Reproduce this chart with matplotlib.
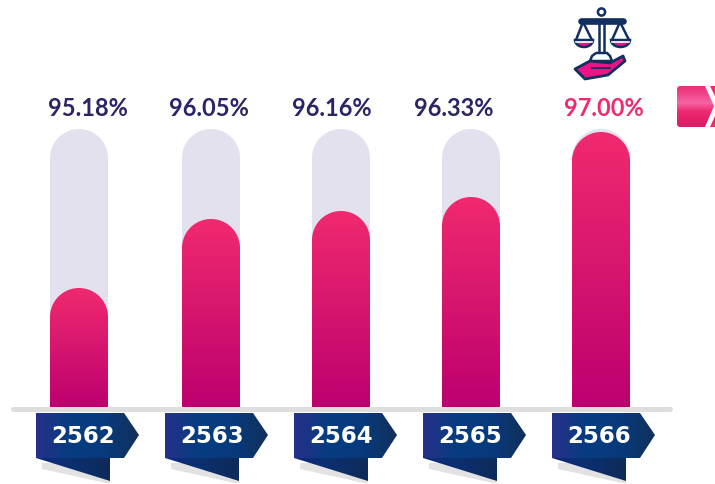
import numpy as np
import matplotlib
matplotlib.use('Agg')
import matplotlib.pyplot as plt
from matplotlib.colors import LinearSegmentedColormap
from matplotlib.patches import Polygon, Circle, PathPatch
from matplotlib.path import Path

years = ['2562', '2563', '2564', '2565', '2566']
labels = ['95.18%', '96.05%', '96.16%', '96.33%', '97.00%']
# fill height of each bar in pixels above the baseline
fill_heights = [120, 189, 197, 211, 276]
track_height = 279

bar_x = [79, 211, 341, 471, 601]
label_x = [87.5, 209, 331.5, 453.5, 603.5]
tag_x = [36, 165, 294, 423, 552]
bar_w = 58
PINK = '#EE2A72'
NAVY = '#2A2566'
DARK = '#12305F'

plt.rcParams['font.family'] = ['Lato', 'DejaVu Sans']
fig = plt.figure(figsize=(7.15, 4.85), dpi=100)
ax = fig.add_axes([0, 0, 1, 1])
ax.set_xlim(0, 715)
ax.set_ylim(-76, 409)   # 0 is the baseline, one unit is one pixel
ax.axis('off')

def py(y):
    return 409 - y

def P(pts):
    return [(a, py(b)) for a, b in pts]

def pill(xc, h, w):
    r = w / 2
    t = np.linspace(np.pi, 0, 60)
    xs = np.r_[xc - r, xc + r * np.cos(t), xc + r]
    ys = np.r_[0, h - r + r * np.sin(t), 0]
    return Path(np.c_[xs, ys])

def grad(extent, colors, clip, horizontal=False, z=3):
    g = np.linspace(0, 1, 256)
    g = g.reshape(1, 256) if horizontal else g.reshape(256, 1)
    cm = LinearSegmentedColormap.from_list('g', colors)
    im = ax.imshow(g, extent=extent, cmap=cm, origin='upper', aspect='auto', zorder=z, interpolation='bilinear')
    im.set_clip_path(clip)

for x, h, lx, lab in zip(bar_x, fill_heights, label_x, labels):
    ax.add_patch(PathPatch(pill(x, track_height, bar_w), fc='#E3E1EE', ec='none', zorder=2))
    clip = PathPatch(pill(x, h, bar_w), fc='none', ec='none', zorder=3)
    ax.add_patch(clip)
    grad((x - bar_w / 2, x + bar_w / 2, 0, h), ['#F02A6E', '#BC006F'], clip)
    ax.text(lx, py(109), lab, ha='center', va='center', fontsize=17, fontweight='bold',
            color=PINK if lab == labels[-1] else NAVY, zorder=5)

# baseline
ax.plot([13, 670], [py(410), py(410)], color='#DEDEDE', lw=3.6, solid_capstyle='round', zorder=4)

# year tags
for x, yr in zip(tag_x, years):
    ax.add_patch(Polygon(P([(x + 6, 464), (x + 6, 470), (x + 70, 484), (x + 74, 484), (x + 74, 464)]),
                         fc='#E2E2E2', ec='none', zorder=2))
    fold = PathPatch(Path(P([(x, 459), (x + 74, 482), (x + 74, 455), (x, 455)])), fc='none', ec='none')
    ax.add_patch(fold)
    grad((x, x + 74, py(482), py(455)), ['#0E2A7C', '#0B2F70', '#0E2A58'], fold, horizontal=True)
    pent = PathPatch(Path(P([(x, 414), (x + 88, 414), (x + 103, 436), (x + 88, 459), (x, 459)])), fc='none', ec='none')
    ax.add_patch(pent)
    grad((x, x + 103, py(459), py(414)), ['#27318A', '#063C80', '#073A7C', '#12305A'], pent, horizontal=True, z=4)
    ax.text(x + 47.5, py(437), yr, ha='center', va='center', color='white', fontsize=16.5,
            fontweight='bold', family='DejaVu Sans', zorder=6)

# scales icon
z = 7
lw = 1.8
ax.add_patch(Circle((601.5, py(13)), 3.6, fc='white', ec=DARK, lw=lw, zorder=z))
ax.add_patch(Polygon(P([(599, 23), (604, 23), (604, 54), (599, 54)]), fc='white', ec=DARK, lw=lw, zorder=z))
ax.plot([581, 623], [py(21.5), py(21.5)], color=DARK, lw=4.8, solid_capstyle='round', zorder=z + 1)
for apex, l, r in [(583, 575, 593), (620, 611, 630)]:
    ax.plot([l + 1, apex, r - 1], [py(41), py(23), py(41)], color=DARK, lw=lw, zorder=z)
    t = np.linspace(np.pi, 0, 30)
    cx, rx = (l + r) / 2, (r - l) / 2
    bowl = np.c_[cx + rx * np.cos(t), py(41) - 7 * np.sin(t)]
    ax.add_patch(Polygon(bowl, fc='#EC1387', ec=DARK, lw=lw, zorder=z))
    ax.plot([l + 1, r - 1], [py(43), py(43)], color='white', lw=1.2, zorder=z + 1)
ax.add_patch(Polygon(P([(596, 54), (607, 54), (610, 57), (612, 62), (590, 62), (592, 57)]), fc='white', ec=DARK, lw=lw, zorder=z))
ax.add_patch(Polygon(P([(575, 70), (590, 62), (610, 64), (623, 57), (625, 62), (608, 76), (585, 80)]),
                     fc='#EC1387', ec=DARK, lw=2, joinstyle='round', zorder=z + 1))
ax.plot([592, 610], [py(69), py(69)], color=DARK, lw=1.3, zorder=z + 2)

# clipped arrow button on the right edge
btn_shape = PathPatch(Path(P([(677, 89), (679, 87), (705, 87), (714, 107), (705, 128), (679, 128), (677, 126), (677, 89)])),
                      fc='none', ec='none')
ax.add_patch(btn_shape)
grad((677, 715, py(129), py(87)), ['#EC2F75', '#F0468A', '#F566A5', '#EE2A72', '#E41F6A', '#D81B68'], btn_shape)
ax.add_patch(Polygon(P([(710, 87), (715, 87), (715, 97)]), fc=PINK, ec='none', zorder=3))
ax.add_patch(Polygon(P([(710, 128), (715, 128), (715, 117)]), fc=PINK, ec='none', zorder=3))

ax.set_xlim(0, 715)
ax.set_ylim(-76, 409)
fig.savefig('out.png', dpi=100)
